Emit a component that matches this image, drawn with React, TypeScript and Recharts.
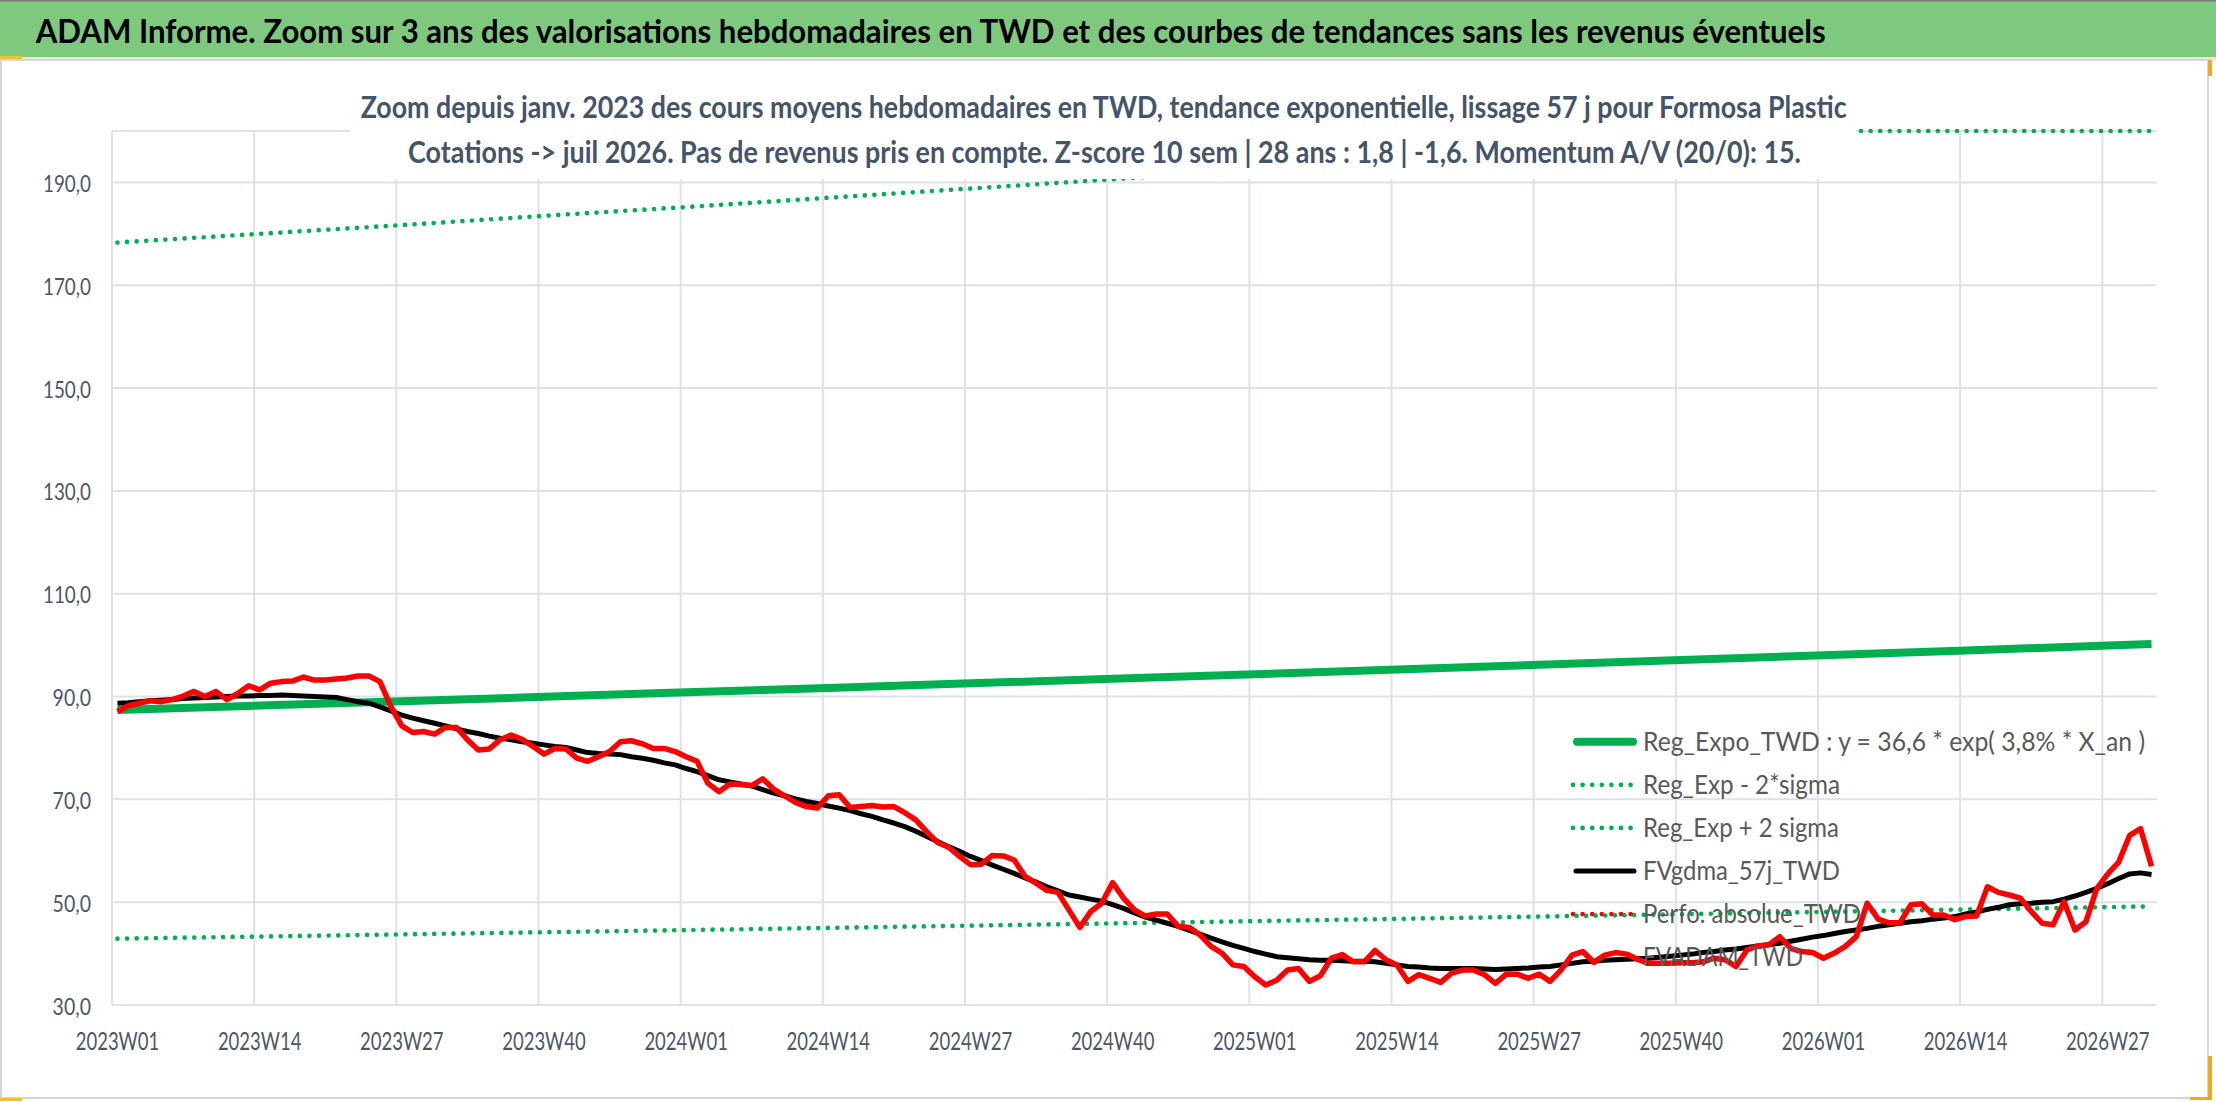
import { CartesianGrid, Legend, Line, LineChart, XAxis, YAxis } from "recharts";

const FONT = "Lato, 'Open Sans', sans-serif";

// ISO weeks shown on the category axis: 2023W01 .. 2026W31
const weekCounts: Array<[number, number]> = [
  [2023, 52],
  [2024, 52],
  [2025, 52],
  [2026, 31],
];
const weeks = weekCounts.flatMap(([year, n]) =>
  Array.from({ length: n }, (_, k) => `${year}W${String(k + 1).padStart(2, "0")}`)
);

const tickLabels = [
  "2023W01", "2023W14", "2023W27", "2023W40",
  "2024W01", "2024W14", "2024W27", "2024W40",
  "2025W01", "2025W14", "2025W27", "2025W40",
  "2026W01", "2026W14", "2026W27",
];

const yTicks = [30, 50, 70, 90, 110, 130, 150, 170, 190];

// trend lines read at every labelled week plus the last one
const trendWeeks = [...tickLabels, "2026W31"];
const regExpo = [87.4, 88.24, 89.09, 89.94, 90.81, 91.68, 92.56, 93.45, 94.34, 95.25, 96.16, 97.09, 98.02, 98.96, 99.91, 100.2];
const regMinus2Sigma = [42.9, 43.31, 43.73, 44.15, 44.57, 45.0, 45.43, 45.87, 46.31, 46.75, 47.2, 47.65, 48.11, 48.57, 49.04, 49.18];
const regPlus2Sigma = [178.3, 180.0, 181.7, 183.5, 185.2, 187.0, 188.8, 190.6, 192.5, 194.3, 196.2, 198.1, 200, 200, 200, 200];

// weekly average price, TWD
const perfoAbsolue = [
  87.1, 88.2, 88.7, 89.2, 89.0, 89.4, 90.1, 91.0, 90.0, 91.0, 89.4, 90.6, 92.1, 91.3, 92.6, 92.9, 93.0, 93.8, 93.2, 93.2,
  93.4, 93.6, 94.0, 94.0, 92.9, 88.1, 84.3, 83.0, 83.2, 82.7, 84.0, 84.0, 81.6, 79.6, 79.8, 81.6, 82.5, 81.7, 80.3, 78.8,
  79.9, 79.8, 78.0, 77.4, 78.3, 79.3, 81.2, 81.4, 80.8, 79.9, 79.9, 79.3, 78.3, 77.4, 73.1, 71.5, 73.0, 72.9, 72.7, 74.0,
  72.0, 70.7, 69.4, 68.6, 68.3, 70.7, 70.9, 68.4, 68.6, 68.8, 68.5, 68.6, 67.4, 66.0, 63.7, 61.6, 60.7, 58.9, 57.3, 57.4,
  59.1, 59.0, 58.2, 55.0, 53.7, 52.3, 51.9, 48.5, 45.1, 48.2, 49.8, 53.8, 50.8, 48.5, 47.3, 47.7, 47.7, 45.3, 45.1, 43.6,
  41.4, 40.1, 37.8, 37.5, 35.5, 33.9, 34.8, 36.8, 37.1, 34.6, 35.7, 39.1, 39.8, 38.4, 38.4, 40.6, 38.8, 37.8, 34.6, 35.9,
  35.2, 34.4, 36.2, 36.8, 36.8, 35.9, 34.2, 36.0, 36.0, 35.2, 36.0, 34.6, 36.8, 39.7, 40.4, 38.3, 39.7, 40.2, 39.9, 38.9,
  38.1, 38.1, 38.1, 38.2, 38.2, 38.4, 39.1, 38.8, 37.5, 40.7, 41.5, 41.7, 43.3, 41.0, 40.4, 40.2, 39.1, 40.1, 41.4, 43.3,
  49.8, 46.7, 46.0, 46.0, 49.5, 49.7, 47.5, 47.5, 46.6, 47.2, 47.3, 53.0, 51.9, 51.4, 50.8, 48.2, 45.9, 45.6, 50.1, 44.6,
  46.2, 52.7, 55.5, 57.8, 63.0, 64.3, 57.0,
];

// 57-day smoothing
const fvgdma57 = [
  88.7, 88.8, 89.0, 89.2, 89.3, 89.4, 89.6, 89.7, 89.8, 89.9, 90.0, 90.1, 90.1, 90.2, 90.2, 90.3, 90.2, 90.1, 90.0, 89.9,
  89.8, 89.4, 89.0, 88.7, 88.0, 87.2, 86.4, 85.8, 85.3, 84.8, 84.3, 83.7, 83.2, 82.8, 82.3, 81.9, 81.6, 81.2, 80.9, 80.6,
  80.3, 80.1, 79.6, 79.1, 78.9, 78.8, 78.7, 78.3, 78.0, 77.6, 77.1, 76.7, 76.0, 75.4, 74.6, 73.8, 73.4, 73.0, 72.6, 71.9,
  71.2, 70.7, 70.1, 69.6, 69.2, 68.7, 68.3, 67.8, 67.2, 66.7, 66.0, 65.4, 64.7, 63.8, 62.8, 61.8, 60.8, 59.9, 58.9, 58.1,
  57.2, 56.4, 55.6, 54.7, 53.9, 53.0, 52.2, 51.4, 51.0, 50.6, 50.2, 49.5, 48.8, 47.9, 47.1, 46.5, 45.9, 45.3, 44.5, 43.8,
  43.0, 42.3, 41.6, 41.0, 40.4, 39.9, 39.4, 39.2, 39.0, 38.8, 38.7, 38.7, 38.6, 38.5, 38.5, 38.4, 38.1, 37.8, 37.5, 37.4,
  37.2, 37.1, 37.1, 37.1, 37.1, 37.0, 36.9, 37.0, 37.1, 37.2, 37.4, 37.5, 37.8, 38.1, 38.4, 38.5, 38.7, 38.8, 38.9, 39.0,
  39.1, 39.3, 39.5, 39.7, 39.9, 40.2, 40.4, 40.7, 40.9, 41.2, 41.5, 41.7, 42.0, 42.4, 42.8, 43.2, 43.5, 43.9, 44.3, 44.6,
  44.9, 45.3, 45.6, 45.9, 46.2, 46.4, 46.7, 46.9, 47.2, 47.7, 48.1, 48.6, 49.0, 49.5, 49.7, 49.8, 50.0, 50.1, 50.6, 51.2,
  51.9, 52.7, 53.6, 54.6, 55.5, 55.7, 55.4,
];

const data = weeks.map((week, idx) => {
  const t = trendWeeks.indexOf(week);
  return {
    idx,
    week,
    reg: t >= 0 ? regExpo[t] : null,
    minus: t >= 0 ? regMinus2Sigma[t] : null,
    plus: t >= 0 ? regPlus2Sigma[t] : null,
    fvgdma: fvgdma57[idx] ?? null,
    perfo: perfoAbsolue[idx] ?? null,
  };
});

const tickIdx = tickLabels.map((l) => weeks.indexOf(l));
const gridIdx = tickIdx.map((i) => i - 0.5);

const GREEN = "#00B050";
const RED = "#FF0000";
const DOTS = "0 9.6";

const legendRows = [
  { key: "reg", sample: "thick", color: GREEN, textLen: 502 },
  { key: "minus", sample: "dots", color: GREEN, textLen: 197 },
  { key: "plus", sample: "dots", color: GREEN, textLen: 196 },
  { key: "fvgdma", sample: "line", color: "#000000", textLen: 197 },
  { key: "perfo", sample: "dots", color: RED, textLen: 218 },
  { key: "fvadam", sample: "none", color: "#7f7f7f", textLen: 160 },
];

function LegendBox(props: any) {
  const payload: any[] = props.payload || [];
  return (
    <svg width={640} height={280} style={{ overflow: "visible" }}>
      {legendRows.map((row, i) => {
        const entry = payload.find((p) => p.dataKey === row.key);
        const cy = 31.7 + i * 43.1;
        return (
          <g key={row.key}>
            {row.sample === "thick" && (
              <line x1={17} x2={73} y1={cy} y2={cy} stroke={row.color} strokeWidth={8} strokeLinecap="round" />
            )}
            {row.sample === "line" && (
              <line x1={16} x2={74} y1={cy} y2={cy} stroke={row.color} strokeWidth={5} strokeLinecap="round" />
            )}
            {row.sample === "dots" && (
              <line x1={13} x2={75} y1={cy} y2={cy} stroke={row.color} strokeWidth={4.7} strokeLinecap="round" strokeDasharray={DOTS} />
            )}
            <text
              x={83}
              y={cy + 9}
              fontFamily={FONT}
              fontSize={26.5}
              fill="#595959"
              textLength={row.textLen}
              lengthAdjust="spacingAndGlyphs"
            >
              {entry ? entry.value : row.key}
            </text>
          </g>
        );
      })}
    </svg>
  );
}

function XTick(props: any) {
  const { x, y, payload } = props;
  return (
    <text
      x={x}
      y={y + 45}
      textAnchor="middle"
      fontFamily={FONT}
      fontSize={25.5}
      fill="#4d5667"
      textLength={83.5}
      lengthAdjust="spacingAndGlyphs"
    >
      {weeks[payload.value]}
    </text>
  );
}

function YTick(props: any) {
  const { x, y, payload } = props;
  const label = Number(payload.value).toFixed(1).replace(".", ",");
  return (
    <text
      x={x - 21}
      y={y + 9.5}
      textAnchor="end"
      fontFamily={FONT}
      fontSize={23.3}
      fill="#4d5667"
      textLength={label.length * 9.6}
      lengthAdjust="spacingAndGlyphs"
    >
      {label}
    </text>
  );
}

export default function App() {
  return (
    <div style={{ position: "absolute", left: 0, top: 0, width: 2216, height: 1102, background: "#fff", overflow: "hidden" }}>
      <LineChart width={2216} height={1102} data={data} margin={{ top: 131, right: 59, bottom: 37, left: 12 }}>
        <CartesianGrid stroke="#dde1e8" strokeWidth={2} verticalValues={gridIdx} />
        <XAxis
          dataKey="idx"
          type="number"
          domain={[-0.5, weeks.length - 0.5]}
          ticks={tickIdx}
          interval={0}
          height={60}
          axisLine={false}
          tickLine={false}
          tickSize={0}
          tickMargin={0}
          tick={<XTick />}
        />
        <YAxis
          type="number"
          domain={[30, 200]}
          ticks={yTicks}
          interval={0}
          width={100}
          axisLine={false}
          tickLine={false}
          tickSize={0}
          tickMargin={0}
          tick={<YTick />}
        />
        <Legend
          layout="horizontal"
          verticalAlign="middle"
          align="center"
          content={<LegendBox />}
          wrapperStyle={{ left: 1560, top: 710, width: 640, height: 280 }}
        />
        <Line
          dataKey="reg"
          name="Reg_Expo_TWD : y = 36,6 * exp( 3,8% *  X_an )"
          stroke={GREEN}
          strokeWidth={8}
          dot={false}
          activeDot={false}
          connectNulls
          isAnimationActive={false}
        />
        <Line
          dataKey="minus"
          name="Reg_Exp - 2*sigma"
          stroke={GREEN}
          strokeWidth={4.7}
          strokeDasharray={DOTS}
          strokeLinecap="round"
          dot={false}
          activeDot={false}
          connectNulls
          isAnimationActive={false}
        />
        <Line
          dataKey="plus"
          name="Reg_Exp + 2 sigma"
          stroke={GREEN}
          strokeWidth={4.7}
          strokeDasharray={DOTS}
          strokeLinecap="round"
          dot={false}
          activeDot={false}
          connectNulls
          isAnimationActive={false}
        />
        <Line
          dataKey="fvgdma"
          name="FVgdma_57j_TWD"
          stroke="#000000"
          strokeWidth={5}
          strokeLinejoin="round"
          dot={false}
          activeDot={false}
          isAnimationActive={false}
        />
        <Line
          dataKey="perfo"
          name="Perfo. absolue_TWD"
          stroke={RED}
          strokeWidth={5.5}
          strokeLinejoin="round"
          dot={false}
          activeDot={false}
          isAnimationActive={false}
        />
        <Line
          dataKey="fvadam"
          name="FVADAM_TWD"
          stroke="#7f7f7f"
          strokeWidth={3}
          dot={false}
          activeDot={false}
          isAnimationActive={false}
        />
      </LineChart>

      <svg width={2216} height={1102} style={{ position: "absolute", left: 0, top: 0, pointerEvents: "none" }}>
        <rect x={0} y={0} width={2216} height={57} fill="#7ec97e" />
        <line x1={0} x2={2216} y1={0.75} y2={0.75} stroke="#7a7a7a" strokeWidth={1.5} />
        <text
          x={35.7}
          y={43.3}
          fontFamily={FONT}
          fontWeight={700}
          fontSize={32}
          fill="#000"
          textLength={1790}
          lengthAdjust="spacingAndGlyphs"
        >
          ADAM Informe. Zoom sur 3 ans des valorisations hebdomadaires en TWD et des courbes de tendances sans les revenus éventuels
        </text>
        <rect x={0} y={57} width={2216} height={4} fill="#e3e5e9" />
        <rect x={1} y={60} width={2207} height={1038} fill="none" stroke="#d4d6da" strokeWidth={2} />
        <rect x={0} y={56} width={22} height={3} fill="#f2c12e" />
        <rect x={0} y={1098} width={22} height={3} fill="#f2c12e" />
        <rect x={2208} y={60} width={4} height={16} fill="#f2a81e" />
        <rect x={2208} y={1056} width={4} height={44} fill="#f2a81e" />
        <rect x={2190} y={1097} width={22} height={3} fill="#f2a81e" />

        <rect x={350} y={64} width={1506} height={115} fill="#ffffff" />
        <text
          x={360.7}
          y={118.3}
          fontFamily={FONT}
          fontWeight={700}
          fontSize={30}
          fill="#44546A"
          textLength={1486}
          lengthAdjust="spacingAndGlyphs"
        >
          Zoom depuis janv. 2023 des cours moyens hebdomadaires en TWD, tendance exponentielle, lissage 57 j pour Formosa Plastic
        </text>
        <text
          x={408}
          y={163}
          fontFamily={FONT}
          fontWeight={700}
          fontSize={30}
          fill="#44546A"
          textLength={1393}
          lengthAdjust="spacingAndGlyphs"
        >
          Cotations -&gt; juil 2026. Pas de revenus pris en compte. Z-score 10 sem | 28 ans : 1,8 | -1,6. Momentum A/V (20/0): 15.
        </text>
      </svg>
    </div>
  );
}
